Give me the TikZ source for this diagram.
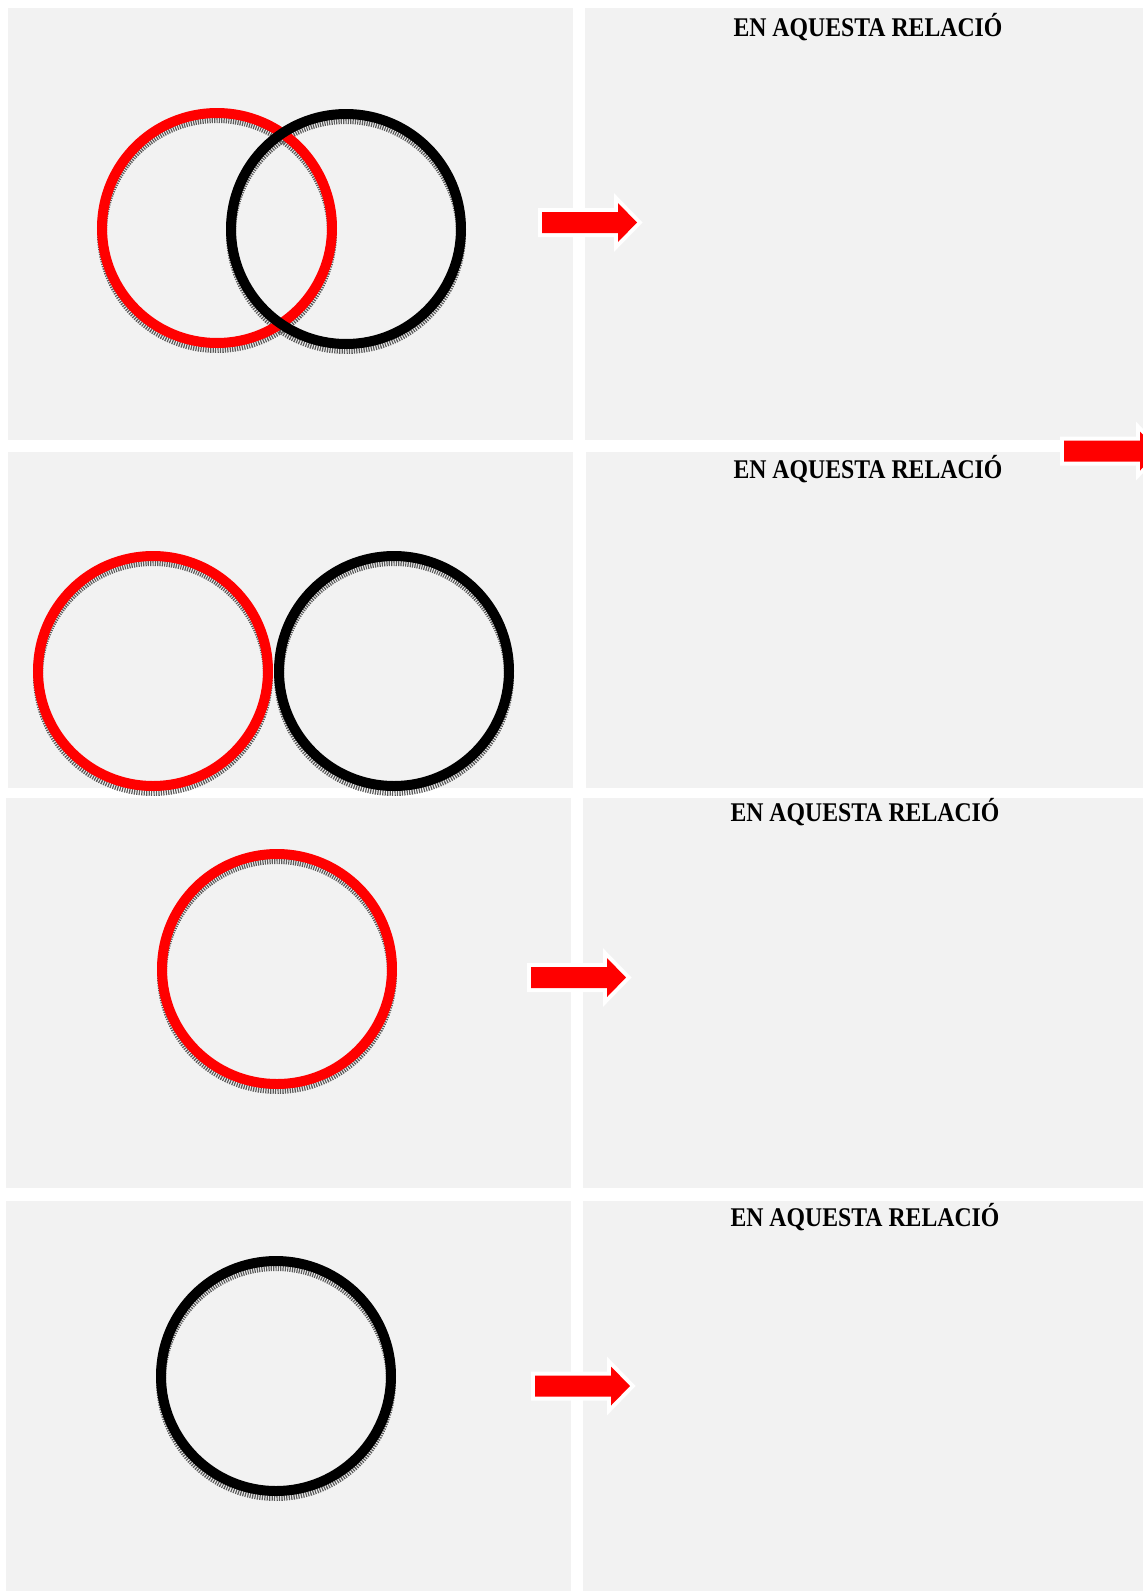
\documentclass[tikz,border=0pt]{standalone}
\usepackage{fontspec}
\setmainfont{Liberation Serif}
\newfontfamily\titlefont[FakeStretch=0.88]{Liberation Serif}
\usepackage{tikz}
\definecolor{panelgray}{HTML}{F2F2F2}
\definecolor{shadowgray}{HTML}{5A5A5A}

\begin{document}
\begin{tikzpicture}[x=0.5pt, y=-0.5pt,
      panel/.style={fill=panelgray},
      ring/.style={draw, circle, minimum size=115pt, inner sep=0pt, line width=5pt},
      shadow/.style={ring, draw=shadowgray, dash pattern=on 0.6pt off 0.6pt},
      title/.style={anchor=base, inner sep=0pt, font=\titlefont\fontsize{13.5}{14}\selectfont\bfseries},
      redarrow/.style={fill=red, preaction={draw=white, line width=4pt, line join=miter}}
    ]
      \useasboundingbox (0,0) rectangle (1143,1591);
      \fill[white] (0,0) rectangle (1143,1591);

      \fill[panel] (8,8) rectangle (573,440);
      \fill[panel] (585,8) rectangle (1143,440);
      \fill[panel] (8,452) rectangle (573,788);
      \fill[panel] (586,452) rectangle (1143,788);
      \fill[panel] (6,798) rectangle (571,1188);
      \fill[panel] (583,798) rectangle (1143,1188);
      \fill[panel] (6,1201) rectangle (571,1591);
      \fill[panel] (583,1201) rectangle (1143,1591);

      \node[title] (titleA) at (868,36) {EN AQUESTA RELACIÓ};
      \node[title] (titleB) at (868,478) {EN AQUESTA RELACIÓ};
      \node[title] (titleC) at (865,821) {EN AQUESTA RELACIÓ};
      \node[title] (titleD) at (865,1226) {EN AQUESTA RELACIÓ};

      \node[shadow] (redAs) at (217,233) {};
      \node[shadow] (blackAs) at (346,234) {};
      \node[ring, red] (redA) at (217,228) {};
      \node[ring, black] (blackA) at (346,229) {};

      \node[shadow] (redBs) at (153,676) {};
      \node[shadow] (blackBs) at (394,676) {};
      \node[ring, red] (redB) at (153,671) {};
      \node[ring, black] (blackB) at (394,671) {};

      \node[shadow] (redCs) at (277,974) {};
      \node[ring, red] (redC) at (277,969) {};

      \node[shadow] (blackDs) at (276,1381) {};
      \node[ring, black] (blackD) at (276,1376) {};

      \foreach \ax/\ay in {542/222.5, 1064/451, 531/977.5, 535/1386}
        \fill[redarrow] (\ax,\ay-10.5) -- ++(76,0) -- ++(0,-9) -- ++(19,19.5)
          -- ++(-19,19.5) -- ++(0,-9) -- ++(-76,0) -- cycle;
    \end{tikzpicture}
\end{document}
